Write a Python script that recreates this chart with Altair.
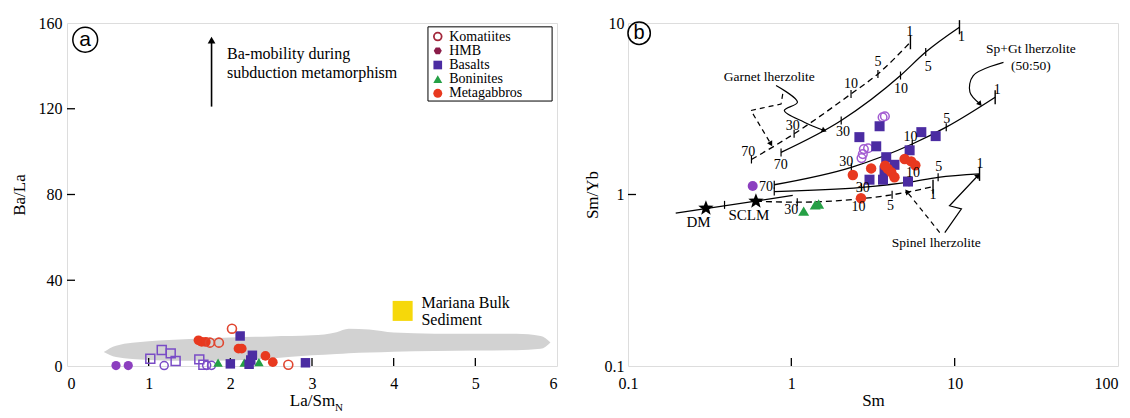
import math
import numpy as np
import pandas as pd
import altair as alt

SERIF = "Liberation Serif, Times New Roman, DejaVu Serif, serif"
SANS = "Liberation Sans, Arial, DejaVu Sans, sans-serif"
W, H = 490, 343

# ---------------- Panel (a): Ba/La vs La/Sm_N ----------------
a_x_labels = [0, 1, 2, 3, 4, 5, 6]
a_y_labels = [0, 40, 80, 120, 160]
a_x_inner = [1, 2, 3, 4, 5]
a_y_inner = [40, 80, 120]

# grey field (upper and lower envelope)
field_x = [0.45, 0.6, 1.0, 1.5, 2.0, 2.5, 3.0, 3.3, 3.45, 3.7, 4.0, 4.5, 5.0, 5.5, 5.8, 5.92]
field_hi = [6.5, 9.5, 11.5, 12.6, 13.3, 13.8, 14.3, 15.8, 17.4, 17.0, 15.6, 15.1, 15.0, 15.0, 14.0, 11.0]
field_lo = [6.5, 4.2, 2.8, 2.4, 2.6, 3.5, 5.0, 5.6, 6.0, 6.3, 6.7, 7.0, 7.2, 7.4, 8.0, 11.0]

kom_a_x = [1.75, 1.86, 2.02, 2.71]
kom_a_y = [10.9, 10.9, 17.4, 0.6]
hmb_a_x = [0.60, 0.75]
hmb_a_y = [0.2, 0.2]
opensq_a_x = [1.02, 1.16, 1.27, 1.33, 1.62, 1.67]
opensq_a_y = [3.4, 7.5, 5.9, 2.3, 3.1, 0.6]
openci_a_x = [1.19, 1.71, 1.77]
openci_a_y = [0.2, 0.3, 0.3]
bas_a_x = [2.00, 2.12, 2.23, 2.25, 2.27, 2.92]
bas_a_y = [1.0, 14.0, 0.8, 2.8, 5.0, 1.5]
bon_a_x = [1.85, 2.17, 2.35]
bon_a_y = [1.6, 1.6, 1.8]
gab_a_x = [1.61, 1.65, 1.70, 2.10, 2.14, 2.43, 2.52]
gab_a_y = [12.0, 11.3, 11.2, 8.1, 8.1, 4.7, 1.8]
sed_x = [4.11]
sed_y = [25.7]

leg_labels = ["Komatiites", "HMB", "Basalts", "Boninites", "Metagabbros"]
leg_rows = [153.7, 147.0, 140.4, 133.8, 127.2]

# ---------------- Panel (b): Sm/Yb vs Sm ----------------
b_x_labels = [0.1, 1, 10, 100]
b_y_labels = [0.1, 1, 10]
b_x_inner = [1, 10]
b_y_inner = [1]

kom_b_x = [3.62, 3.74, 2.78, 2.95, 2.74, 2.69]
kom_b_y = [2.82, 2.86, 1.84, 1.86, 1.72, 1.63]
bas_b_x = [3.47, 2.61, 3.31, 6.25, 7.65, 5.30, 3.81, 4.28, 3.72, 3.01, 3.64, 5.18]
bas_b_y = [2.50, 2.16, 1.91, 2.31, 2.19, 1.81, 1.65, 1.49, 1.38, 1.22, 1.22, 1.19]
gab_b_x = [2.38, 3.08, 3.90, 4.09, 4.28, 4.94, 5.42, 5.74, 3.75, 2.67]
gab_b_y = [1.30, 1.42, 1.41, 1.35, 1.26, 1.61, 1.56, 1.48, 1.47, 0.95]
hmb_b_x = [0.58]
hmb_b_y = [1.12]
bon_b_x = [1.19, 1.40, 1.47]
bon_b_y = [0.80, 0.87, 0.88]
star_x = [0.30, 0.607]
star_y = [0.832, 0.914]
star_names = ["DM", "SCLM"]
star_lab_x = [0.27, 0.55]
star_lab_y = [0.69, 0.76]

# melting curves (vertices at 70, 30, 10, 5, 1 % melting)
gt_solid_x = [0.865, 2.02, 4.66, 6.65, 10.7]
gt_solid_y = [1.76, 2.70, 4.94, 6.77, 9.45]
gt_dash_x = [0.57, 1.04, 2.32, 3.39, 5.36]
gt_dash_y = [1.60, 2.26, 3.86, 5.05, 7.73]
spgt_x = [0.786, 2.33, 5.5, 8.88, 17.7]
spgt_y = [1.14, 1.44, 1.97, 2.47, 3.69]
sp_solid_x = [0.786, 2.69, 5.25, 7.92, 14.2]
sp_solid_y = [1.04, 1.10, 1.18, 1.26, 1.32]
sp_dash_x = [0.607, 1.087, 2.63, 4.14, 7.37]
sp_dash_y = [0.914, 0.902, 0.944, 0.996, 1.11]
dm_x = [0.196, 1.02]
dm_y = [0.778, 0.987]
dm_tick_x = [0.39]
dm_tick_y = [0.87]

curve_lab_t = ["70", "30", "10", "5", "1",
               "70", "30", "10", "5", "1",
               "70", "30", "10", "5", "1",
               "30", "10", "5", "1",
               "30", "10", "5", "1"]
curve_lab_x = [0.86, 2.07, 4.7, 6.9, 11.0,
               0.545, 1.02, 2.32, 3.39, 5.3,
               0.70, 2.17, 5.36, 8.94, 18.2,
               2.74, 5.55, 7.98, 14.3,
               1.0, 2.58, 4.05, 7.37]
curve_lab_y = [1.48, 2.31, 4.13, 5.53, 8.29,
               1.76, 2.50, 4.40, 5.90, 8.90,
               1.10, 1.54, 2.16, 2.76, 4.09,
               1.09, 1.33, 1.44, 1.50,
               0.81, 0.84, 0.86, 1.0]

# annotation leaders
gt_lead_solid_x = [0.806, 1.09, 0.906, 1.20, 1.59]
gt_lead_solid_y = [4.32, 3.45, 3.09, 2.64, 2.36]
gt_lead_dash_x = [0.886, 0.865, 0.566, 0.75]
gt_lead_dash_y = [3.86, 3.37, 3.09, 1.97]
spgt_lead_x = [19.9, 13.0, 12.4, 14.3]
spgt_lead_y = [5.9, 4.94, 3.95, 3.37]
sp_lead_solid_x = [8.7, 11.0, 9.3, 13.9]
sp_lead_solid_y = [0.60, 0.824, 0.86, 1.29]
sp_lead_dash_x = [8.1, 5.1]
sp_lead_dash_y = [0.60, 1.04]

# ---------------- styling ----------------
C_RED = "#e8391f"
C_KOM = "#e0452f"
C_KOM_LEG = "#a3283c"
C_HMB_LEG = "#8a1c48"
C_PURP = "#8c3fbf"
C_OPEN_PURP = "#7a4cc6"
C_OPEN_PURP_B = "#a35cd2"
C_BAS = "#4b2ca2"
C_GREEN = "#25a045"
C_YELLOW = "#f6d80a"
C_FIELD = "#d2d2d2"

HEX = "M1,0L0.5,0.866L-0.5,0.866L-1,0L-0.5,-0.866L0.5,-0.866Z"
_pts = []
for k in range(10):
    r = 1.0 if k % 2 == 0 else 0.42
    ang = math.radians(-90 + 36 * k)
    _pts.append((r * math.cos(ang), r * math.sin(ang)))
STAR = "M" + "L".join(f"{px:.3f},{py:.3f}" for px, py in _pts) + "Z"
VTICK = "M0,-1L0,1"

AX_COMMON = dict(ticks=False, domain=False, grid=False, labelFont=SERIF, labelFontSize=16,
                 labelColor="black", titleFont=SERIF, titleFontSize=17, titleFontWeight="normal",
                 titleColor="black")

XA = alt.X("x:Q", scale=alt.Scale(domain=[0, 6], nice=False, zero=False),
           axis=alt.Axis(values=a_x_labels, title="La/Sm", labelPadding=9, titlePadding=1, **AX_COMMON))
YA = alt.Y("y:Q", scale=alt.Scale(domain=[0, 160], nice=False, zero=False),
           axis=alt.Axis(values=a_y_labels, title="Ba/La", labelPadding=5, titlePadding=10, **AX_COMMON))
XB = alt.X("x:Q", scale=alt.Scale(type="log", domain=[0.1, 100], nice=False),
           axis=alt.Axis(values=b_x_labels, title="Sm", format="~g", labelPadding=9, titlePadding=1,
                         labelAlign={"condition": {"test": "datum.value >= 100", "value": "right"}, "value": "center"},
                         **AX_COMMON))
YB = alt.Y("y:Q", scale=alt.Scale(type="log", domain=[0.1, 10], nice=False),
           axis=alt.Axis(values=b_y_labels, title="Sm/Yb", format="~g", labelPadding=4, titlePadding=3, **AX_COMMON))


def pts(xs, ys, X, Y, shape, color, filled=True, size=70, sw=1.3):
    df = pd.DataFrame({"x": xs, "y": ys})
    return alt.Chart(df).mark_point(shape=shape, filled=filled, size=size, color=color,
                                    strokeWidth=sw, opacity=1).encode(x=X, y=Y)


def txt(xs, ys, labels, X, Y, size=14, align="center", baseline="middle", font=SERIF):
    df = pd.DataFrame({"x": xs, "y": ys, "t": labels})
    return alt.Chart(df).mark_text(font=font, fontSize=size, align=align, baseline=baseline,
                                   color="black").encode(x=X, y=Y, text="t:N")


def line(xs, ys, X, Y, dash=None, interp="linear", sw=1.3):
    df = pd.DataFrame({"x": xs, "y": ys, "i": list(range(len(xs)))})
    kw = dict(color="black", strokeWidth=sw, interpolate=interp)
    if dash:
        kw["strokeDash"] = dash
    return alt.Chart(df).mark_line(**kw).encode(x=X, y=Y, order="i:Q")


def xticks_inner(vals, X, length=8):
    df = pd.DataFrame({"x": vals})
    return alt.Chart(df).mark_rule(color="black", strokeWidth=1.3).encode(
        x=X, y=alt.value(H), y2=alt.value(H - length))


def yticks_inner(vals, Y, length=8):
    df = pd.DataFrame({"y": vals})
    return alt.Chart(df).mark_rule(color="black", strokeWidth=1.3).encode(
        y=Y, x=alt.value(0), x2=alt.value(length))


def arrow_angle(xs, ys, logx, logy):
    fx = (lambda v: W / 3 * math.log10(v)) if logx else (lambda v: W / 6 * v)
    fy = (lambda v: -H / 2 * math.log10(v)) if logy else (lambda v: -H / 160 * v)
    dx = fx(xs[-1]) - fx(xs[-2])
    dy = fy(ys[-1]) - fy(ys[-2])
    return math.degrees(math.atan2(dx, -dy)) % 360


def arrowhead(xs, ys, X, Y, logx, logy, size=45):
    df = pd.DataFrame({"x": [xs[-1]], "y": [ys[-1]], "a": [arrow_angle(xs, ys, logx, logy)]})
    return alt.Chart(df).mark_point(shape="triangle-up", filled=True, size=size, color="black",
                                    opacity=1).encode(x=X, y=Y, angle=alt.Angle("a:Q", scale=None))


# ---------------- build panel (a) ----------------
field_df = pd.DataFrame({"x": field_x, "y": field_hi, "y2": field_lo})
field = alt.Chart(field_df).mark_area(color=C_FIELD, interpolate="monotone", opacity=1).encode(
    x=XA, y=YA, y2=alt.Y2("y2:Q"))

arrow_a_x = [1.77, 1.77]
arrow_a_y = [121, 152]

legend_box = alt.Chart(pd.DataFrame({"x": [4.42], "x2": [5.94], "y": [123.6], "y2": [158.2]})).mark_rect(
    fill="white", stroke="black", strokeWidth=1).encode(x=XA, x2=alt.X2("x2:Q"), y=YA, y2=alt.Y2("y2:Q"))

leg_sym_x = 4.54
leg_layers = [
    pts([leg_sym_x], [leg_rows[0]], XA, YA, "circle", C_KOM_LEG, filled=False, size=60, sw=1.8),
    pts([leg_sym_x], [leg_rows[1]], XA, YA, HEX, C_HMB_LEG, size=65),
    pts([leg_sym_x], [leg_rows[2]], XA, YA, "square", C_BAS, size=75),
    pts([leg_sym_x], [leg_rows[3]], XA, YA, "triangle-up", C_GREEN, size=80),
    pts([leg_sym_x], [leg_rows[4]], XA, YA, "circle", C_RED, size=80),
    txt([4.68] * 5, leg_rows, leg_labels, XA, YA, size=14, align="left"),
]

panel_a = alt.layer(
    field,
    xticks_inner(a_x_inner, XA),
    yticks_inner(a_y_inner, YA),
    pts(opensq_a_x, opensq_a_y, XA, YA, "square", C_OPEN_PURP, filled=False, size=80, sw=1.5),
    pts(openci_a_x, openci_a_y, XA, YA, "circle", C_OPEN_PURP, filled=False, size=65, sw=1.5),
    pts(hmb_a_x, hmb_a_y, XA, YA, "circle", C_PURP, size=85),
    pts(bon_a_x, bon_a_y, XA, YA, "triangle-up", C_GREEN, size=90),
    pts(bas_a_x, bas_a_y, XA, YA, "square", C_BAS, size=90),
    pts(gab_a_x, gab_a_y, XA, YA, "circle", C_RED, size=95),
    pts(kom_a_x, kom_a_y, XA, YA, "circle", C_KOM, filled=False, size=80, sw=1.6),
    pts(sed_x, sed_y, XA, YA, "square", C_YELLOW, size=400),
    txt([4.34, 4.34], [29.5, 21.3], ["Mariana Bulk", "Sediment"], XA, YA, size=16, align="left"),
    line(arrow_a_x, arrow_a_y, XA, YA, sw=1.6),
    arrowhead(arrow_a_x, arrow_a_y, XA, YA, False, False, size=60),
    txt([1.96, 1.96], [145.4, 136.9], ["Ba-mobility during", "subduction metamorphism"], XA, YA,
        size=16, align="left"),
    legend_box,
    *leg_layers,
    pts([0.223], [152.2], XA, YA, "circle", "black", filled=False, size=616, sw=1.5),
    txt([0.223], [152.2], ["a"], XA, YA, size=21, font=SANS),
    alt.Chart(pd.DataFrame({"t": ["N"]})).mark_text(font=SERIF, fontSize=11, align="left",
                                                    baseline="middle", color="black").encode(
        x=alt.value(268), y=alt.value(H + 42), text="t:N"),
).properties(width=W, height=H)

# ---------------- build panel (b) ----------------
tick_b_x = gt_solid_x[:-1] + gt_dash_x[:-1] + spgt_x[:-1] + sp_solid_x[:-1] + sp_dash_x[1:-1] + dm_tick_x
tick_b_y = gt_solid_y[:-1] + gt_dash_y[:-1] + spgt_y[:-1] + sp_solid_y[:-1] + sp_dash_y[1:-1] + dm_tick_y
end_b_x = [gt_solid_x[-1], gt_dash_x[-1], spgt_x[-1], sp_solid_x[-1], sp_dash_x[-1]]
end_b_y = [gt_solid_y[-1], gt_dash_y[-1], spgt_y[-1], sp_solid_y[-1], sp_dash_y[-1]]

DASH = [6, 4]
panel_b = alt.layer(
    xticks_inner(b_x_inner, XB),
    yticks_inner(b_y_inner, YB),
    line(gt_solid_x, gt_solid_y, XB, YB, interp="monotone"),
    line(gt_dash_x, gt_dash_y, XB, YB, dash=DASH, interp="monotone"),
    line(spgt_x, spgt_y, XB, YB, interp="monotone"),
    line(sp_solid_x, sp_solid_y, XB, YB, interp="monotone"),
    line(sp_dash_x, sp_dash_y, XB, YB, dash=DASH, interp="monotone"),
    line(dm_x, dm_y, XB, YB),
    pts(tick_b_x, tick_b_y, XB, YB, VTICK, "black", filled=False, size=64, sw=1.2),
    pts(end_b_x, end_b_y, XB, YB, VTICK, "black", filled=False, size=200, sw=1.4),
    line(gt_lead_solid_x, gt_lead_solid_y, XB, YB, interp="catmull-rom", sw=1.2),
    arrowhead(gt_lead_solid_x, gt_lead_solid_y, XB, YB, True, True, size=35),
    line(gt_lead_dash_x, gt_lead_dash_y, XB, YB, dash=[5, 4], sw=1.2),
    arrowhead(gt_lead_dash_x, gt_lead_dash_y, XB, YB, True, True, size=35),
    line(spgt_lead_x, spgt_lead_y, XB, YB, interp="catmull-rom", sw=1.2),
    arrowhead(spgt_lead_x, spgt_lead_y, XB, YB, True, True, size=35),
    line(sp_lead_solid_x, sp_lead_solid_y, XB, YB, sw=1.2),
    arrowhead(sp_lead_solid_x, sp_lead_solid_y, XB, YB, True, True, size=35),
    line(sp_lead_dash_x, sp_lead_dash_y, XB, YB, dash=[5, 4], sw=1.2),
    arrowhead(sp_lead_dash_x, sp_lead_dash_y, XB, YB, True, True, size=35),
    pts(kom_b_x, kom_b_y, XB, YB, "circle", C_OPEN_PURP_B, filled=False, size=75, sw=1.5),
    pts(bas_b_x, bas_b_y, XB, YB, "square", C_BAS, size=100),
    pts(gab_b_x, gab_b_y, XB, YB, "circle", C_RED, size=110),
    pts(hmb_b_x, hmb_b_y, XB, YB, "circle", C_PURP, size=100),
    pts(bon_b_x, bon_b_y, XB, YB, "triangle-up", C_GREEN, size=120),
    pts(star_x, star_y, XB, YB, STAR, "black", size=260),
    txt(star_lab_x, star_lab_y, star_names, XB, YB, size=15),
    txt(curve_lab_x, curve_lab_y, curve_lab_t, XB, YB, size=14),
    txt([0.733], [4.83], ["Garnet lherzolite"], XB, YB, size=13.5),
    txt([29.3, 29.3], [7.06, 5.65], ["Sp+Gt lherzolite", "(50:50)"], XB, YB, size=13.5),
    txt([7.71], [0.522], ["Spinel lherzolite"], XB, YB, size=13.5),
    pts([0.117], [8.72], XB, YB, "circle", "black", filled=False, size=500, sw=1.5),
    txt([0.117], [8.72], ["b"], XB, YB, size=20, font=SANS),
).properties(width=W, height=H)

chart = alt.hconcat(panel_a, panel_b, spacing=24).properties(
    padding={"left": 1, "top": 6, "right": 0, "bottom": 0}
).configure_view(stroke="black", strokeWidth=1.5).configure(background="white")

chart.save("out.html", embed_options={"renderer": "svg", "actions": False})
